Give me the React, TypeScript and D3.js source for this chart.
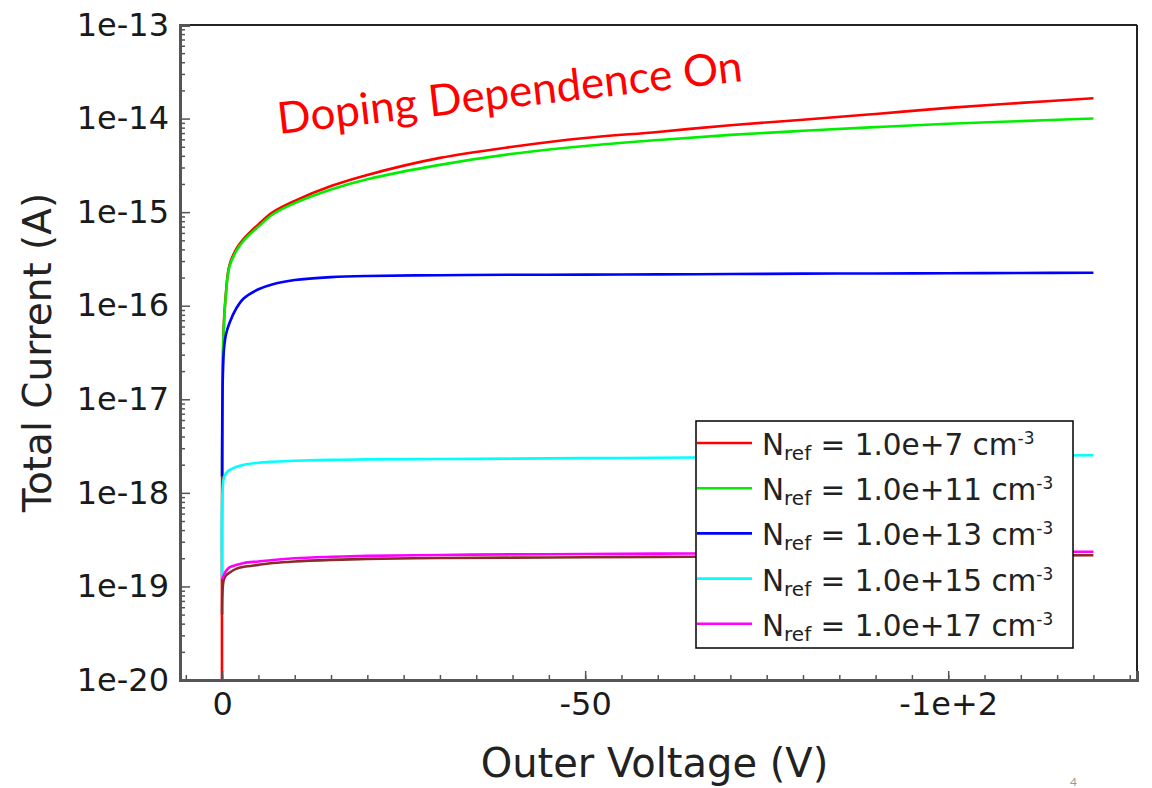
import React, { useEffect, useRef } from 'react';
import * as d3 from 'd3';

const W = 1152;
const H = 788;

// outer voltage (V), shared by every curve
const voltages = [0, -0.2, -0.5, -1, -2, -3, -5, -7, -10, -15, -20, -30, -40, -50, -60, -70, -80, -90, -100, -110, -120];

// total current (A) per Nref
const nref7 = [1e-21, 5.5e-17, 1.3e-16, 2.7e-16, 4.1e-16, 5.2e-16, 7.4e-16, 1.0e-15, 1.32e-15, 1.9e-15, 2.5e-15, 3.8e-15, 5e-15, 6.2e-15, 7.2e-15, 8.5e-15, 9.7e-15, 1.12e-14, 1.3e-14, 1.47e-14, 1.65e-14];
const nref11 = [1.5e-18, 5e-17, 1.25e-16, 2.6e-16, 3.9e-16, 5e-16, 7e-16, 9.5e-16, 1.25e-15, 1.75e-15, 2.25e-15, 3.2e-15, 4.2e-15, 5.1e-15, 5.9e-15, 6.7e-15, 7.4e-15, 8.1e-15, 8.8e-15, 9.4e-15, 1.0e-14];
const nref13 = [1.5e-18, 3e-17, 4.8e-17, 6.5e-17, 9.5e-17, 1.2e-16, 1.5e-16, 1.7e-16, 1.88e-16, 2.02e-16, 2.08e-16, 2.12e-16, 2.14e-16, 2.15e-16, 2.16e-16, 2.18e-16, 2.2e-16, 2.21e-16, 2.22e-16, 2.24e-16, 2.25e-16];
const nref15 = [1.2e-19, 1.4e-18, 1.6e-18, 1.75e-18, 1.9e-18, 2.0e-18, 2.1e-18, 2.15e-18, 2.2e-18, 2.25e-18, 2.28e-18, 2.3e-18, 2.32e-18, 2.35e-18, 2.37e-18, 2.4e-18, 2.42e-18, 2.45e-18, 2.48e-18, 2.5e-18, 2.52e-18];
const nref17 = [1.2e-19, 1.3e-19, 1.45e-19, 1.6e-19, 1.7e-19, 1.78e-19, 1.85e-19, 1.92e-19, 2.0e-19, 2.07e-19, 2.12e-19, 2.17e-19, 2.2e-19, 2.22e-19, 2.24e-19, 2.26e-19, 2.28e-19, 2.3e-19, 2.32e-19, 2.34e-19, 2.35e-19];
// unlabelled dark curve under the magenta one
const extraCurve = [5e-20, 1.15e-19, 1.3e-19, 1.4e-19, 1.55e-19, 1.62e-19, 1.7e-19, 1.78e-19, 1.85e-19, 1.92e-19, 1.97e-19, 2.01e-19, 2.03e-19, 2.05e-19, 2.07e-19, 2.08e-19, 2.1e-19, 2.11e-19, 2.12e-19, 2.14e-19, 2.15e-19];

const legendExponents = ['7', '11', '13', '15', '17'];
const seriesColors = ['#ff0000', '#00ee00', '#0000ff', '#00ffff', '#ff00ff'];
const extraColor = '#8b2a2a';

const xMajorTicks = [0, -50, -100];
const xMajorLabels = ['0', '-50', '-1e+2'];

const FONT = '"DejaVu Sans", sans-serif';

const renderChart = (svgEl: SVGSVGElement) => {
  const svg = d3.select(svgEl);
  svg.selectAll('*').remove();

  const margin = { top: 25, right: 15, bottom: 108, left: 180 };
  const innerW = W - margin.left - margin.right;
  const innerH = H - margin.top - margin.bottom;

  const x = d3.scaleLinear().domain([5.8, -126]).range([0, innerW]);
  const y = d3.scaleLog().domain([1e-20, 1e-13]).range([innerH, 0]);

  const g = svg.append('g').attr('transform', `translate(${margin.left},${margin.top})`);

  g.append('clipPath').attr('id', 'plot-clip')
    .append('rect').attr('width', innerW).attr('height', innerH);

  const line = d3.line<number>()
    .x((d, i) => x(voltages[i]))
    .y(d => y(Math.max(d, 1e-22)))
    .curve(d3.curveCatmullRom.alpha(0.5));

  const series = [nref7, nref11, nref13, nref15, extraCurve, nref17];
  const colors = [seriesColors[0], seriesColors[1], seriesColors[2], seriesColors[3], extraColor, seriesColors[4]];

  const plot = g.append('g').attr('clip-path', 'url(#plot-clip)');
  series.forEach((s, i) => {
    plot.append('path')
      .datum(s)
      .attr('d', line)
      .attr('fill', 'none')
      .attr('stroke', colors[i])
      .attr('stroke-width', 2.6)
      .attr('stroke-linejoin', 'round');
  });

  // frame top / right
  g.append('line').attr('x1', 0).attr('x2', innerW).attr('y1', 0).attr('y2', 0)
    .attr('stroke', '#222').attr('stroke-width', 2);
  g.append('line').attr('x1', innerW).attr('x2', innerW).attr('y1', 0).attr('y2', innerH)
    .attr('stroke', '#222').attr('stroke-width', 2);

  // y axis
  const yMajor = d3.range(-20, -12).map(k => Math.pow(10, k));
  const yMinor: number[] = [];
  d3.range(-20, -13).forEach(k => d3.range(2, 10).forEach(m => yMinor.push(m * Math.pow(10, k))));

  const yAxisMinor = g.append('g')
    .call(d3.axisLeft(y).tickValues(yMinor).tickSize(-5).tickFormat(() => ''));
  yAxisMinor.select('.domain').remove();

  const yAxis = g.append('g')
    .call(d3.axisLeft(y).tickValues(yMajor).tickSize(-10).tickPadding(11)
      .tickFormat(d => `1e${Math.round(Math.log10(+d))}`));

  // x axis
  const xMinor = d3.range(5, -126, -5);
  const xAxisMinor = g.append('g').attr('transform', `translate(0,${innerH})`)
    .call(d3.axisBottom(x).tickValues(xMinor).tickSize(-5).tickFormat(() => ''));
  xAxisMinor.select('.domain').remove();

  const xAxis = g.append('g').attr('transform', `translate(0,${innerH})`)
    .call(d3.axisBottom(x).tickValues(xMajorTicks).tickSize(-9).tickPadding(12)
      .tickFormat((d, i) => xMajorLabels[i]));

  [yAxis, xAxis].forEach(a => {
    a.select('.domain').attr('stroke', '#555').attr('stroke-width', 3);
    a.selectAll('text').attr('font-family', FONT).attr('font-size', 32).attr('fill', '#1a1a1a');
  });
  [yAxis, xAxis, yAxisMinor, xAxisMinor].forEach(a => {
    a.selectAll('.tick line').attr('stroke', '#555').attr('stroke-width', 1.5);
  });

  // axis titles
  svg.append('text')
    .attr('x', margin.left + innerW / 2 - 4).attr('y', 777)
    .attr('text-anchor', 'middle')
    .attr('font-family', FONT).attr('font-size', 40).attr('fill', '#222')
    .text('Outer Voltage (V)');

  svg.append('text')
    .attr('transform', `translate(51,${margin.top + innerH / 2}) rotate(-90)`)
    .attr('text-anchor', 'middle')
    .attr('font-family', FONT).attr('font-size', 39).attr('fill', '#222')
    .text('Total Current (A)');

  // legend
  const legend = svg.append('g').attr('transform', 'translate(696,421)');
  legend.append('rect')
    .attr('width', 377).attr('height', 227)
    .attr('fill', '#fff').attr('stroke', '#000').attr('stroke-width', 1.5);
  legendExponents.forEach((e, i) => {
    const row = legend.append('g').attr('transform', `translate(0,${22 + i * 45.2})`);
    row.append('line').attr('x1', 1).attr('x2', 56).attr('y1', 0).attr('y2', 0)
      .attr('stroke', seriesColors[i]).attr('stroke-width', 2.6);
    const t = row.append('text')
      .attr('x', 66).attr('y', 12)
      .attr('font-family', FONT).attr('font-size', 29.5).attr('fill', '#222');
    t.append('tspan').text('N');
    t.append('tspan').attr('font-size', 20).attr('dy', 5).text('ref');
    t.append('tspan').attr('dy', -5).text(` = 1.0e+${e} cm`);
    t.append('tspan').attr('font-size', 17).attr('dy', -11).text('-3');
  });

  // annotation
  svg.append('text')
    .attr('transform', 'translate(279,134) rotate(-6.5)')
    .attr('font-family', 'Lato, "Open Sans", sans-serif')
    .attr('font-size', 44)
    .attr('fill', '#ff0000')
    .text('Doping Dependence On');

  // slide number at the page corner
  svg.append('text')
    .attr('x', 1070).attr('y', 786)
    .attr('font-family', 'Lato, sans-serif').attr('font-size', 12).attr('fill', '#999')
    .text('4');
};

const App = () => {
  const ref = useRef<SVGSVGElement>(null);
  useEffect(() => {
    if (ref.current) renderChart(ref.current);
  }, []);
  return (
    <svg
      ref={ref}
      width={W}
      height={H}
      style={{ position: 'absolute', left: 0, top: 0, background: '#fff' }}
    />
  );
};

export default App;
